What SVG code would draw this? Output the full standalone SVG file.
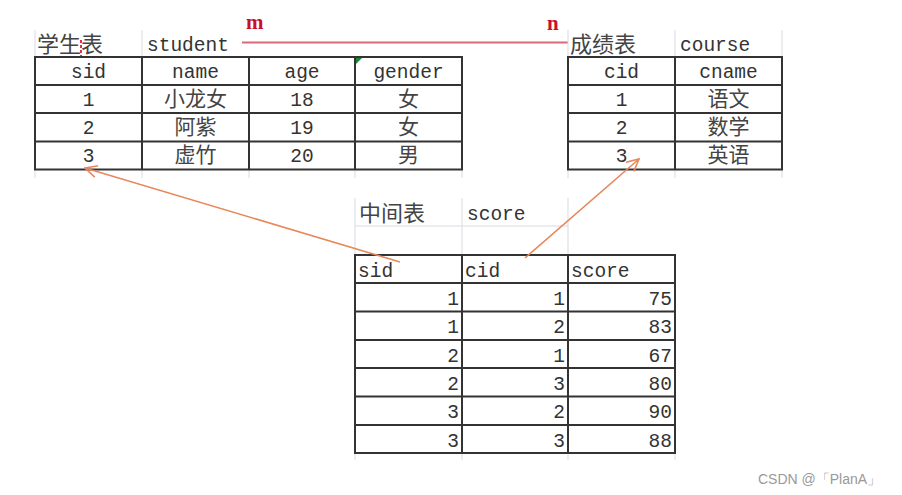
<svg xmlns="http://www.w3.org/2000/svg" width="902" height="495" viewBox="0 0 902 495">
<style>
.grid{stroke:#d8dbe4;stroke-width:1;fill:none}
.tb{stroke:#333;stroke-width:2;fill:none}
.t{font-family:"Liberation Mono","Noto Sans CJK SC",monospace;font-size:19.5px;fill:#333}
.c{text-anchor:middle}
.r{text-anchor:end}
.cn{font-family:"Noto Sans CJK SC",sans-serif;font-size:21px;fill:#444}
.ti{font-size:22px}
.lbl{font-family:"Liberation Serif",serif;font-size:21px;font-weight:bold;fill:#c8102e}
.arr{stroke:#e8875a;stroke-width:1.6;fill:none}
</style>
<defs>
<marker id="ah" markerWidth="14" markerHeight="14" refX="13" refY="7" orient="auto" markerUnits="userSpaceOnUse">
<path d="M1,1 L13,7 L1,13" stroke="#e8875a" stroke-width="1.6" fill="none"/>
</marker>
</defs>
<rect width="902" height="495" fill="#fff"/>

<g id="relation">
<text class="lbl" x="246" y="29">m</text>
<text class="lbl" x="547" y="30">n</text>
<line x1="242" y1="42.5" x2="568" y2="42.5" stroke="#d66a7a" stroke-width="2"/>
</g>

<g id="student">
<path class="grid" d="M35,30V57M142,30V57M35,170V178M142,170V178M249,170V178M355,170V178M462,170V178"/>
<text class="cn ti" x="37" y="52">学生表</text>
<line x1="81" y1="40" x2="81" y2="56" stroke="#e0304a" stroke-width="2" stroke-dasharray="3,2"/>
<text class="t" x="147" y="51">student</text>
<rect class="tb" x="35" y="57" width="427" height="112.5"/>
<path class="tb" d="M142,57V169.5M249,57V169.5M355,57V169.5M35,85H462M35,113H462M35,141.5H462"/>
<polygon points="356,58 362,58 356,64" fill="#1a8a3a"/>
<text class="t c" x="88.5" y="78">sid</text>
<text class="t c" x="195.5" y="78">name</text>
<text class="t c" x="302" y="78">age</text>
<text class="t c" x="408.5" y="78">gender</text>
<text class="t c" x="88.5" y="106">1</text>
<text class="cn c" x="195.5" y="106">小龙女</text>
<text class="t c" x="302" y="106">18</text>
<text class="cn c" x="408.5" y="106">女</text>
<text class="t c" x="88.5" y="134">2</text>
<text class="cn c" x="195.5" y="134">阿紫</text>
<text class="t c" x="302" y="134">19</text>
<text class="cn c" x="408.5" y="134">女</text>
<text class="t c" x="88.5" y="162">3</text>
<text class="cn c" x="195.5" y="162">虚竹</text>
<text class="t c" x="302" y="162">20</text>
<text class="cn c" x="408.5" y="162">男</text>
</g>

<g id="course">
<path class="grid" d="M568,30V57M675,30V57M782,30V57M568,170V178M675,170V178M782,170V178"/>
<text class="cn ti" x="570" y="52">成绩表</text>
<text class="t" x="680" y="51">course</text>
<rect class="tb" x="568" y="57" width="214" height="112.5"/>
<path class="tb" d="M675,57V169.5M568,85H782M568,113H782M568,141.5H782"/>
<text class="t c" x="621.5" y="78">cid</text>
<text class="t c" x="728.5" y="78">cname</text>
<text class="t c" x="621.5" y="106">1</text>
<text class="cn c" x="728.5" y="106">语文</text>
<text class="t c" x="621.5" y="134">2</text>
<text class="cn c" x="728.5" y="134">数学</text>
<text class="t c" x="621.5" y="162">3</text>
<text class="cn c" x="728.5" y="162">英语</text>
</g>

<g id="score">
<path class="grid" d="M355,198V255M462,198V255M568,198V255M355,226H568M355,453V460M462,453V460M568,453V460M675,453V460"/>
<text class="cn ti" x="359" y="221">中间表</text>
<text class="t" x="467" y="220">score</text>
<rect class="tb" x="355" y="255" width="320" height="198"/>
<path class="tb" d="M462,255V453M568,255V453M355,283H675M355,311.5H675M355,340H675M355,368H675M355,396.5H675M355,425H675"/>
<text class="t" x="358" y="277">sid</text>
<text class="t" x="465" y="277">cid</text>
<text class="t" x="571" y="277">score</text>
<text class="t r" x="459" y="305">1</text><text class="t r" x="565" y="305">1</text><text class="t r" x="672" y="305">75</text>
<text class="t r" x="459" y="333">1</text><text class="t r" x="565" y="333">2</text><text class="t r" x="672" y="333">83</text>
<text class="t r" x="459" y="362">2</text><text class="t r" x="565" y="362">1</text><text class="t r" x="672" y="362">67</text>
<text class="t r" x="459" y="390">2</text><text class="t r" x="565" y="390">3</text><text class="t r" x="672" y="390">80</text>
<text class="t r" x="459" y="418">3</text><text class="t r" x="565" y="418">2</text><text class="t r" x="672" y="418">90</text>
<text class="t r" x="459" y="447">3</text><text class="t r" x="565" y="447">3</text><text class="t r" x="672" y="447">88</text>
</g>

<g id="connectors">
<line class="arr" x1="400" y1="262" x2="85" y2="168" marker-end="url(#ah)"/>
<line class="arr" x1="525" y1="258" x2="639" y2="159" marker-end="url(#ah)"/>
</g>

<text x="758" y="484" font-family="Liberation Sans,sans-serif" font-size="14" fill="#999">CSDN @「PlanA」</text>
</svg>
